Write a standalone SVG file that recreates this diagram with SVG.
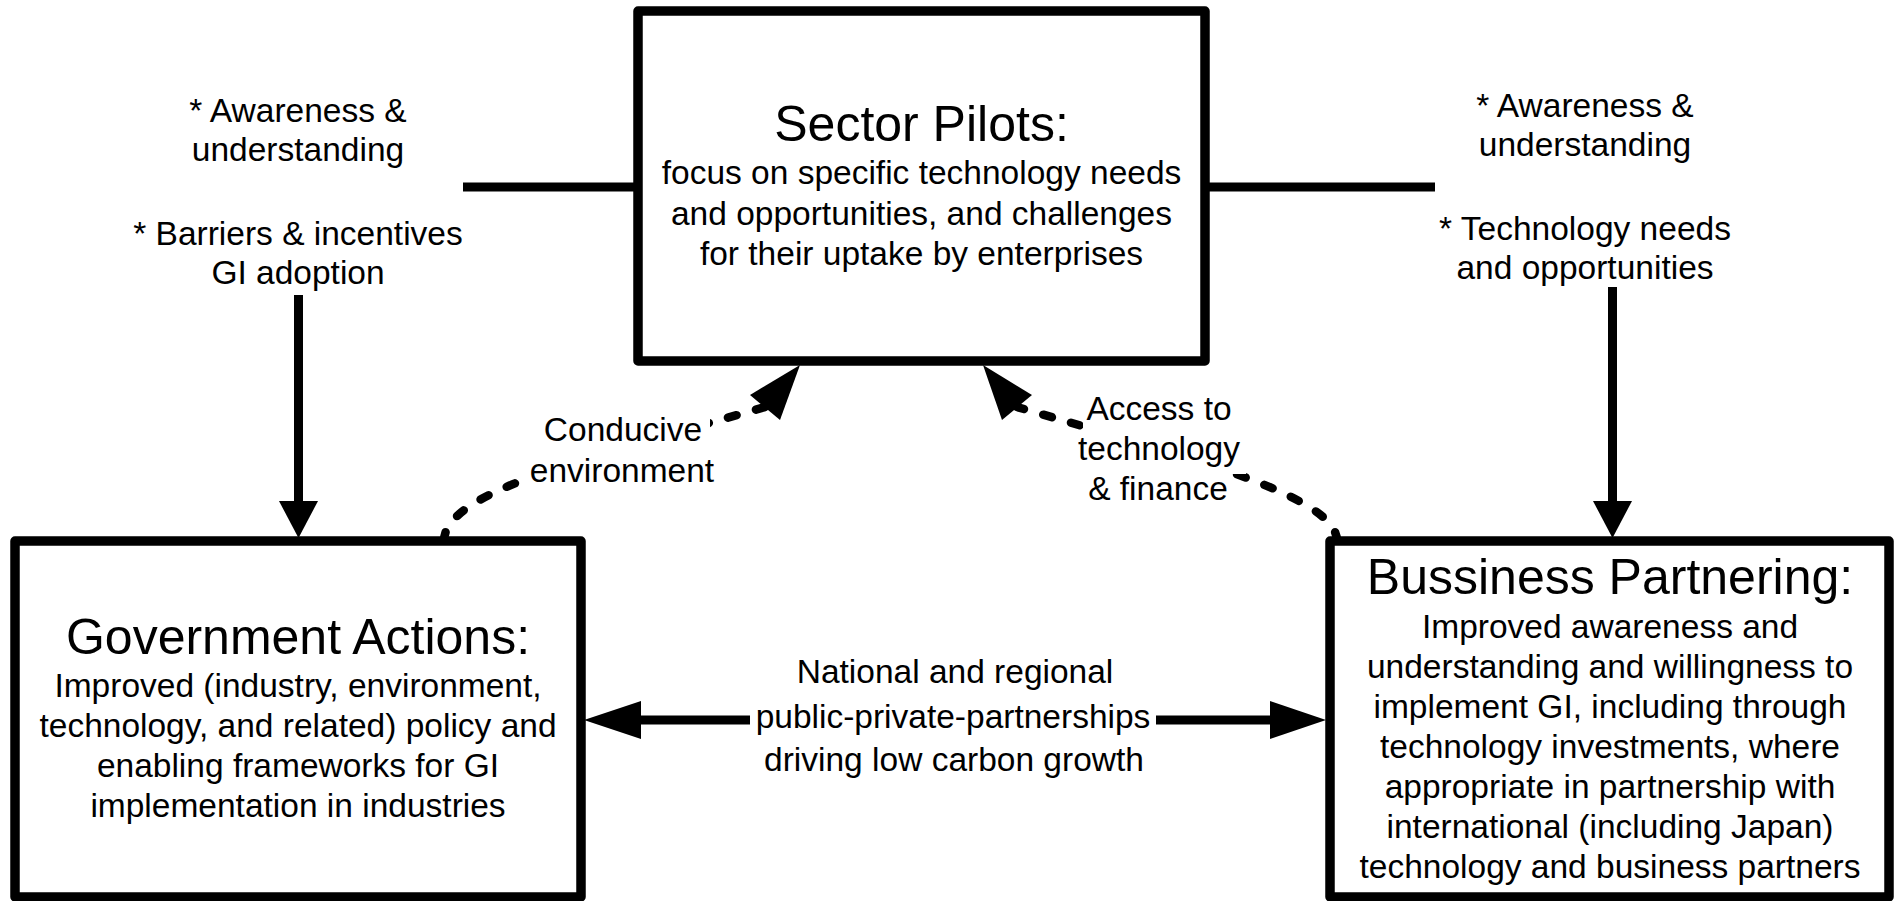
<svg xmlns="http://www.w3.org/2000/svg" width="1894" height="901" viewBox="0 0 1894 901">
<style>
  .box { fill: #ffffff; stroke: #000000; stroke-width: 9.5; stroke-linejoin: round; }
  .line { fill: none; stroke: #000000; stroke-width: 9; }
  .dash { fill: none; stroke: #000000; stroke-width: 8.5; stroke-linecap: round; stroke-dasharray: 9 20; }
  .head { fill: #000000; stroke: none; }
  .mask { fill: #ffffff; stroke: none; }
  text { font-family: "Liberation Sans", Arial, sans-serif; fill: #000000; text-anchor: middle; }
  .title { font-size: 50px; }
  .body { font-size: 33.5px; }
</style>
<rect x="0" y="0" width="1894" height="901" fill="#ffffff"/>

<g id="connectors">
  <!-- side lines from annotations to Sector Pilots -->
  <line class="line" x1="463" y1="187" x2="638" y2="187"/>
  <line class="line" x1="1205" y1="187" x2="1435" y2="187"/>
  <!-- vertical arrows -->
  <line class="line" x1="298.5" y1="295" x2="298.5" y2="503"/>
  <polygon class="head" points="279,501 318,501 298.5,538"/>
  <line class="line" x1="1612.5" y1="287" x2="1612.5" y2="503"/>
  <polygon class="head" points="1593,501 1632,501 1612.5,538"/>
  <!-- dashed curved arrows -->
  <path class="dash" d="M444,541 C444,490 600,455 765,407"/>
  <polygon class="head" points="800,365 750,395 780,420"/>
  <path class="dash" d="M1337,541 C1337,495 1180,455 1017,407"/>
  <polygon class="head" points="983,365 1032,395 1002,420"/>
  <!-- double arrow -->
  <line class="line" x1="638" y1="720" x2="750" y2="720"/>
  <line class="line" x1="1156" y1="720" x2="1272" y2="720"/>
  <polygon class="head" points="584,720 641,701 641,739"/>
  <polygon class="head" points="1326,720 1270,701 1270,739"/>
  <!-- connector labels -->
  <g id="label-conducive">
    <rect class="mask" x="536" y="410" width="174" height="42"/>
    <rect class="mask" x="524" y="452" width="196" height="40"/>
    <text class="body" x="623" y="441">Conducive</text>
    <text class="body" x="622" y="482">environment</text>
  </g>
  <g id="label-access">
    <rect class="mask" x="1083" y="392" width="153" height="38"/>
    <rect class="mask" x="1074" y="430" width="172" height="44"/>
    <rect class="mask" x="1084" y="474" width="148" height="34"/>
    <text class="body" x="1159" y="420">Access to</text>
    <text class="body" x="1159" y="460">technology</text>
    <text class="body" x="1158" y="500">&amp; finance</text>
  </g>
  <g id="label-ppp">
    <text class="body" x="955" y="683">National and regional</text>
    <text class="body" x="953" y="728">public-private-partnerships</text>
    <text class="body" x="954" y="771">driving low carbon growth</text>
  </g>
</g>

<g id="annotation-left">
  <text class="body" x="298" y="122">* Awareness &amp;</text>
  <text class="body" x="298" y="161">understanding</text>
  <text class="body" x="298" y="245">* Barriers &amp; incentives</text>
  <text class="body" x="298" y="284">GI adoption</text>
</g>

<g id="annotation-right">
  <text class="body" x="1585" y="117">* Awareness &amp;</text>
  <text class="body" x="1585" y="156">understanding</text>
  <text class="body" x="1585" y="240">* Technology needs</text>
  <text class="body" x="1585" y="279">and opportunities</text>
</g>

<g id="sector-pilots">
  <rect class="box" x="638" y="11" width="567" height="350"/>
  <text class="title" x="921.5" y="141">Sector Pilots:</text>
  <text class="body" x="921.5" y="184">focus on specific technology needs</text>
  <text class="body" x="921.5" y="224.5">and opportunities, and challenges</text>
  <text class="body" x="921.5" y="265">for their uptake by enterprises</text>
</g>

<g id="government-actions">
  <rect class="box" x="15" y="541" width="566" height="356"/>
  <text class="title" x="298" y="654">Government Actions:</text>
  <text class="body" x="298" y="697">Improved (industry, environment,</text>
  <text class="body" x="298" y="737">technology, and related) policy and</text>
  <text class="body" x="298" y="777">enabling frameworks for GI</text>
  <text class="body" x="298" y="817">implementation in industries</text>
</g>

<g id="business-partnering">
  <rect class="box" x="1330" y="541" width="559" height="356"/>
  <text class="title" x="1610" y="594">Bussiness Partnering:</text>
  <text class="body" x="1610" y="638">Improved awareness and</text>
  <text class="body" x="1610" y="678">understanding and willingness to</text>
  <text class="body" x="1610" y="718">implement GI, including through</text>
  <text class="body" x="1610" y="758">technology investments, where</text>
  <text class="body" x="1610" y="798">appropriate in partnership with</text>
  <text class="body" x="1610" y="838">international (including Japan)</text>
  <text class="body" x="1610" y="878">technology and business partners</text>
</g>
</svg>
